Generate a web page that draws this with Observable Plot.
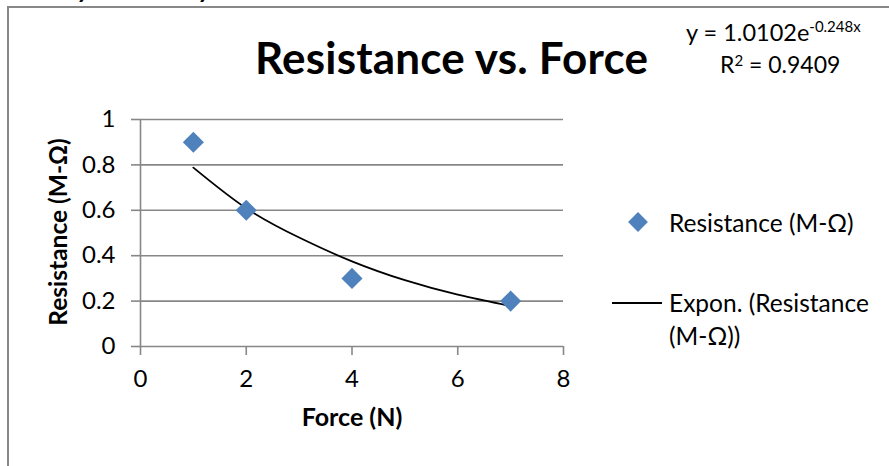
<!DOCTYPE html>
<html>
<head>
<meta charset="utf-8">
<script src="https://cdn.jsdelivr.net/npm/d3@7"></script>
<script src="https://cdn.jsdelivr.net/npm/@observablehq/plot@0.6"></script>
<style>
  html, body { margin: 0; padding: 0; background: #fff; }
  #wrap { position: relative; width: 889px; height: 466px; overflow: hidden; font-family: Lato, "Noto Sans", sans-serif; color: #000; }
  #wrap svg { position: absolute; left: 0; top: 0; }
  .abs { position: absolute; white-space: nowrap; }
  #frame { position: absolute; left: 7px; top: 6px; width: 1000px; height: 600px; border-left: 2px solid #878787; border-top: 2px solid #878787; }
</style>
</head>
<body>
<div id="wrap">
  <div id="frame"></div>
</div>
<script>
// ---- data ----
const forceN = [1, 2, 4, 7];
const resistanceM = [0.9, 0.6, 0.3, 0.2];
const trendX = [1, 2, 3, 4, 5, 6, 7];
const trendY = [0.788, 0.609, 0.480, 0.375, 0.292, 0.228, 0.178];
const xTicks = [0, 2, 4, 6, 8];
const yTicks = [0, 0.2, 0.4, 0.6, 0.8, 1];
const titleText = "Resistance vs. Force";
const xLabel = "Force (N)";
const yLabel = "Resistance (M-Ω)";
const seriesName = "Resistance (M-Ω)";
const trendName = "Expon. (Resistance (M-Ω))";

const points = forceN.map((f, i) => ({force: f, resistance: resistanceM[i]}));
const trend = trendX.map((x, i) => ({x, y: trendY[i]}));

const gray = "#878787";
const blue = "#4F81BD";

const chart = Plot.plot({
  width: 889,
  height: 466,
  marginLeft: 140,
  marginRight: 326,
  marginTop: 119,
  marginBottom: 120,
  style: {fontFamily: "Lato, 'Noto Sans', sans-serif", fontSize: "24px", color: "#000", background: "transparent", overflow: "visible"},
  x: {domain: [0, 8]},
  y: {domain: [0, 1]},
  marks: [
    Plot.gridY(yTicks.filter(d => d > 0), {stroke: gray, strokeOpacity: 1, strokeWidth: 1.6}),
    Plot.ruleX([0], {stroke: gray, strokeWidth: 1.6}),
    Plot.ruleY([0], {stroke: gray, strokeWidth: 1.6}),
    Plot.axisY(yTicks, {tickSize: 9, tickPadding: 16, stroke: gray, strokeWidth: 1.6, fill: "#000", tickFormat: d => String(+d.toFixed(1)), label: null, fontSize: 24}),
    Plot.axisX(xTicks, {tickSize: 9, tickPadding: 14, stroke: gray, strokeWidth: 1.6, fill: "#000", tickFormat: d => String(d), label: null, fontSize: 24}),
    Plot.line(trend, {x: "x", y: "y", stroke: "#000", strokeWidth: 1.8, curve: "natural"}),
    Plot.dot(points, {x: "force", y: "resistance", symbol: "diamond2", r: 9.5, fill: blue, stroke: "none"})
  ]
});

const wrap = document.getElementById("wrap");
wrap.appendChild(chart);

function addText(txt, css, html) {
  const d = document.createElement("div");
  d.className = "abs";
  if (html) d.innerHTML = txt; else d.textContent = txt;
  Object.assign(d.style, css);
  wrap.appendChild(d);
  return d;
}

// clipped text above the chart frame (only descenders visible in the reference)
addText("y", {left: "78px", top: "-25px", fontSize: "26px", fontWeight: "bold", fontStyle: "italic", lineHeight: "26px"});
addText("y", {left: "199px", top: "-25px", fontSize: "26px", fontWeight: "bold", fontStyle: "italic", lineHeight: "26px"});

// title
addText(titleText, {left: "255px", top: "30px", fontSize: "44px", fontWeight: "bold", lineHeight: "54px", letterSpacing: "0.2px"});

// equation
addText("y = 1.0102e<sup style='font-size:15px;vertical-align:9px'>-0.248x</sup>", {left: "686px", top: "11px", fontSize: "23.5px", lineHeight: "30px"}, true);
addText("R<sup style='font-size:15px;vertical-align:7px'>2</sup> = 0.9409", {left: "720px", top: "45px", fontSize: "23px", lineHeight: "30px"}, true);

// axis labels
addText(xLabel, {left: "352px", top: "401px", transform: "translateX(-50%)", fontSize: "25px", fontWeight: "bold", lineHeight: "30px"});
addText(yLabel, {left: "58px", top: "232px", transform: "translate(-50%,-50%) rotate(-90deg)", fontSize: "24.5px", fontWeight: "bold", lineHeight: "30px"});

// legend
const dia = document.createElement("div");
Object.assign(dia.style, {position: "absolute", left: "631px", top: "215px", width: "14px", height: "14px", background: blue, transform: "rotate(45deg)"});
wrap.appendChild(dia);
addText(seriesName, {left: "669px", top: "207px", fontSize: "24.5px", lineHeight: "32px"});
const ln = document.createElement("div");
Object.assign(ln.style, {position: "absolute", left: "612px", top: "302px", width: "50px", height: "2px", background: "#000"});
wrap.appendChild(ln);
addText("Expon. (Resistance<br>(M-Ω))", {left: "669px", top: "286px", fontSize: "24.5px", lineHeight: "33px", whiteSpace: "normal", width: "218px"}, true);
</script>
</body>
</html>
